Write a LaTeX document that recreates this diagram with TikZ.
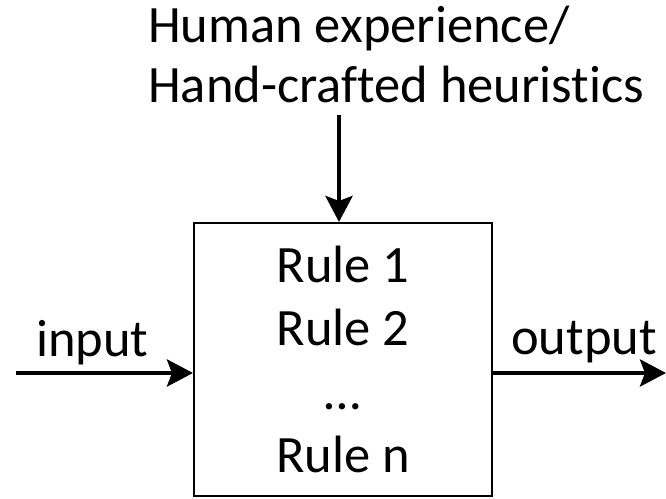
\documentclass[tikz,border=0pt]{standalone}
\usepackage{fontspec}
\setmainfont[Ligatures=NoCommon]{Carlito}
\usetikzlibrary{arrows.meta}

\begin{document}
\begin{tikzpicture}[x=1pt,y=1pt,
    label text/.style={inner sep=0pt, font=\fontsize{52.5}{60}\selectfont},
    rulebox/.style={draw, line width=2pt, minimum width=298pt, minimum height=273pt,
      align=center, inner sep=0pt, font=\fontsize{52.5}{63.5}\selectfont},
    flow/.style={line width=4.5pt, -{Stealth[length=26pt, width=27pt, inset=5pt]}}]
  \useasboundingbox (0,0) rectangle (666,498);

  % central block of rules
  \node[rulebox] (rules) at (343,138.5) {Rule 1\\Rule 2\\…\\Rule n};

  % heading above the block (base anchor sits on the last line)
  \node[label text, align=left, anchor=base west] (heur) at (148,395)
    {Human experience/\\Hand-crafted heuristics};

  % side labels
  \node[label text, anchor=base west] (inlab) at (36,141) {input};
  \node[label text, anchor=base west] (outlab) at (511,143) {output};

  % connector end points
  \coordinate (inStart) at (16,125);
  \coordinate (outEnd) at (666,125);
  \coordinate (topStart) at (339,383);

  \draw[flow] (inStart) -- (inStart -| rules.west);
  \draw[flow] (inStart -| rules.east) -- (outEnd);
  \draw[flow] (topStart) -- (topStart |- rules.north);
\end{tikzpicture}
\end{document}
